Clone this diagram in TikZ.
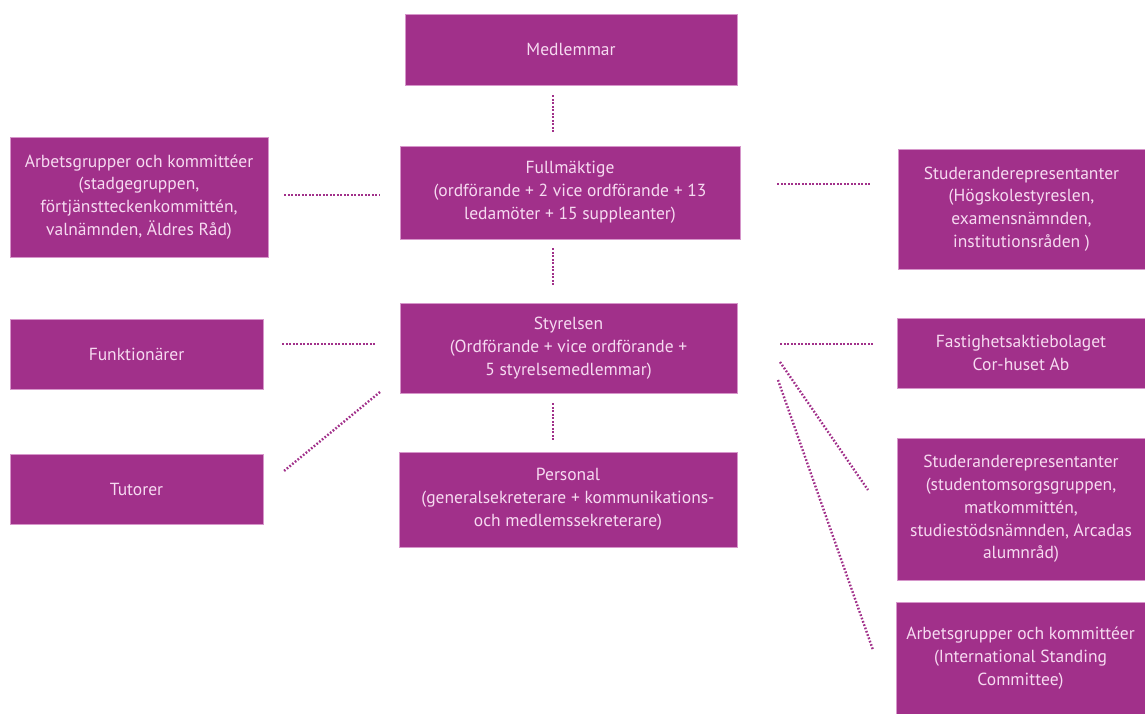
\documentclass[tikz,border=0pt]{standalone}
\usepackage{fontspec}
\setmainfont{PT Sans}
\usetikzlibrary{calc}
\definecolor{orgpurple}{RGB}{161,48,138}
\definecolor{orgtext}{RGB}{246,218,241}
\definecolor{orgedge}{RGB}{214,150,202}
\tikzset{unit/.style={draw=orgedge, line width=0.8pt, fill=orgpurple, text=orgtext, align=center,
    inner sep=0pt, font=\fontsize{17.5}{22.8}\selectfont},
  link/.style={draw=orgpurple, line width=2.4pt, dash pattern=on 1.7pt off 1.8pt}}

\begin{document}
\begin{tikzpicture}[x=1pt, y=-1pt]
  \useasboundingbox (0,0) rectangle (1145,714);
  % centre column
  \node[unit, minimum width=332pt, minimum height=71pt] (medl) at (571,49.5) {Medlemmar};
  \node[unit, minimum width=340pt, minimum height=93pt] (full) at (570,192.5)
    {Fullmäktige\\(ordförande + 2 vice ordförande + 13\\ledamöter + 15 suppleanter)};
  \node[unit, minimum width=337pt, minimum height=90pt] (styr) at (568.5,348)
    {Styrelsen\\(Ordförande + vice ordförande +\\5 styrelsemedlemmar)};
  \node[unit, minimum width=338pt, minimum height=95pt] (pers) at (568,499.5)
    {Personal\\(generalsekreterare + kommunikations-\\och medlemssekreterare)};
  % left column
  \node[unit, minimum width=258pt, minimum height=120pt] (arbL) at (139,197)
    {Arbetsgrupper och kommittéer\\(stadgegruppen,\\förtjänstteckenkommittén,\\valnämnden, Äldres Råd)};
  \node[unit, minimum width=253pt, minimum height=70pt] (funk) at (136.5,354) {Funktionärer};
  \node[unit, minimum width=253pt, minimum height=70pt] (tut) at (136.5,489) {Tutorer};
  % right column
  \node[unit, minimum width=247pt, minimum height=120pt] (stuR) at (1021.5,209)
    {Studeranderepresentanter\\(Högskolestyreslen,\\examensnämnden,\\institutionsråden )};
  \node[unit, minimum width=248pt, minimum height=70pt] (fast) at (1021,353)
    {Fastighetsaktiebolaget\\Cor-huset Ab};
  \node[unit, minimum width=248pt, minimum height=142pt] (stu2) at (1021,509)
    {Studeranderepresentanter\\(studentomsorgsgruppen,\\matkommittén,\\studiestödsnämnden, Arcadas\\alumnråd)};
  \node[unit, minimum width=249pt, minimum height=112pt] (arb2) at (1020.5,658)
    {Arbetsgrupper och kommittéer\\(International Standing\\Committee)};
  % vertical links
  \draw[link, shorten <=10pt, shorten >=13pt] ([xshift=-18pt]medl.south) -- ([xshift=-17pt]full.north);
  \draw[link, shorten <=9pt, shorten >=16pt] ([xshift=-17pt]full.south) -- ([xshift=-15.5pt]styr.north);
  \draw[link, shorten <=10pt, shorten >=12pt] ([xshift=-15.5pt]styr.south) -- ([xshift=-15pt]pers.north);
  % horizontal links
  \draw[link, shorten <=16pt, shorten >=20pt] (arbL.east |- 0,195) -- (full.west |- 0,195);
  \draw[link, shorten <=37pt, shorten >=28pt] (full.east |- 0,184) -- (stuR.west |- 0,184);
  \draw[link, shorten <=19pt, shorten >=24pt] (funk.east |- 0,344) -- (styr.west |- 0,344);
  \draw[link, shorten <=43pt, shorten >=22pt] (styr.east |- 0,344) -- (fast.west |- 0,344);
  % slanted links
  \coordinate (tA) at (380,392);
  \coordinate (tB) at (284,471);
  \coordinate (sA) at (780,362);
  \coordinate (sB) at (868,490);
  \coordinate (aA) at (778,380);
  \coordinate (aB) at (873,650);
  \draw[link] (tA) -- (tB);
  \draw[link] (sA) -- (sB);
  \draw[link] (aA) -- (aB);
\end{tikzpicture}
\end{document}
